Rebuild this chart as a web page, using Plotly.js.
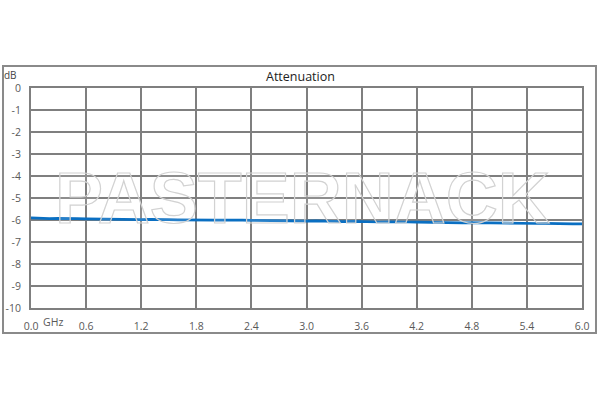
<!DOCTYPE html>
<html>
<head>
<meta charset="utf-8">
<script src="https://cdn.plot.ly/plotly-3.0.1.min.js"></script>
<style>html,body{margin:0;padding:0;background:#fff;}#chart{width:600px;height:400px;}</style>
</head>
<body>
<div id="chart"></div>
<script>
var freqGHz = [0.0,0.1,0.2,0.3,0.4,0.5,0.6,0.7,0.8,0.9,1.0,1.1,1.2,1.3,1.4,1.5,1.6,1.7,1.8,1.9,2.0,2.1,2.2,2.3,2.4,2.5,2.6,2.7,2.8,2.9,3.0,3.1,3.2,3.3,3.4,3.5,3.6,3.7,3.8,3.9,4.0,4.1,4.2,4.3,4.4,4.5,4.6,4.7,4.8,4.9,5.0,5.1,5.2,5.3,5.4,5.5,5.6,5.7,5.8,5.9,6.0];
var attenuationDb = [-5.90,-5.93,-5.94,-5.93,-5.95,-5.94,-5.95,-5.96,-5.95,-5.97,-5.96,-5.97,-5.98,-5.97,-5.99,-5.98,-5.99,-6.00,-5.99,-6.00,-6.01,-6.00,-6.02,-6.01,-6.02,-6.03,-6.02,-6.04,-6.03,-6.04,-6.05,-6.04,-6.06,-6.05,-6.07,-6.06,-6.08,-6.07,-6.09,-6.08,-6.10,-6.09,-6.10,-6.11,-6.10,-6.12,-6.11,-6.13,-6.12,-6.13,-6.14,-6.13,-6.15,-6.14,-6.15,-6.16,-6.15,-6.17,-6.16,-6.18,-6.18];
var xTickVals = [0.0,0.6,1.2,1.8,2.4,3.0,3.6,4.2,4.8,5.4,6.0];
var xTickText = ["0.0","0.6","1.2","1.8","2.4","3.0","3.6","4.2","4.8","5.4","6.0"];
var yTickVals = [0,-1,-2,-3,-4,-5,-6,-7,-8,-9,-10];
var yTickText = ["0","-1","-2","-3","-4","-5","-6","-7","-8","-9","-10"];
var titleText = "Attenuation";
var xUnit = "GHz";
var yUnit = "dB";
var watermark = "PASTERNACK";

var gridColor = "#7f7f7f";
var tickFont = {family: "Open Sans, Liberation Sans, sans-serif", size: 10.5, color: "#595959"};

var trace = {
  x: freqGHz, y: attenuationDb, type: "scatter", mode: "lines",
  line: {color: "#0a6fc2", width: 2.7}, hoverinfo: "skip"
};

var layout = {
  width: 600, height: 400,
  margin: {l: 31, r: 18, t: 88, b: 92},
  paper_bgcolor: "#ffffff", plot_bgcolor: "#ffffff",
  showlegend: false,
  xaxis: {
    range: [0, 6], tickmode: "array", tickvals: xTickVals, ticktext: xTickText,
    showgrid: true, gridcolor: gridColor, gridwidth: 2,
    showline: true, linecolor: gridColor, linewidth: 2, mirror: true,
    zeroline: false, ticks: "", ticklabelstandoff: 7, tickfont: tickFont, fixedrange: true
  },
  yaxis: {
    range: [-10, 0], tickmode: "array", tickvals: yTickVals, ticktext: yTickText,
    showgrid: true, gridcolor: gridColor, gridwidth: 2,
    showline: true, linecolor: gridColor, linewidth: 2, mirror: true,
    zeroline: false, ticks: "", ticklabelstandoff: 6, tickfont: tickFont, fixedrange: true
  },
  shapes: [{
    type: "rect", xref: "paper", yref: "paper",
    x0: -0.0508, x1: 1.0254, y0: -0.1136, y1: 1.1,
    line: {color: "#8a8a8a", width: 2}, fillcolor: "rgba(0,0,0,0)", layer: "below"
  }],
  annotations: [
    {text: titleText, xref: "paper", yref: "paper", x: 0.489, y: 1.05, xanchor: "center", yanchor: "middle",
     showarrow: false, font: {family: "Open Sans, Liberation Sans, sans-serif", size: 12.5, color: "#222"}},
    {text: xUnit, xref: "paper", yref: "paper", x: 0.019, y: -0.064, xanchor: "left", yanchor: "middle",
     showarrow: false, font: tickFont},
    {text: yUnit, xref: "paper", yref: "paper", x: -0.052, y: 1.06, xanchor: "left", yanchor: "middle",
     showarrow: false, font: {family: "Open Sans, Liberation Sans, sans-serif", size: 10, color: "#444"}},
    {text: watermark, xref: "paper", yref: "paper", x: 0.492, y: 0.5, xanchor: "center", yanchor: "middle",
     showarrow: false, name: "watermark",
     font: {family: "Liberation Sans, Arial, sans-serif", size: 72, weight: "bold", color: "rgba(255,255,255,0.35)"}}
  ]
};

Plotly.newPlot("chart", [trace], layout, {displayModeBar: false, staticPlot: true}).then(function (gd) {
  var texts = gd.querySelectorAll(".annotation-text");
  texts.forEach(function (t) {
    if (t.textContent === watermark) {
      t.style.stroke = "#d2d2d2";
      t.style.strokeWidth = "1.2px";
      t.style.fill = "rgba(255,255,255,0.35)";
    }
  });
});
</script>
</body>
</html>
